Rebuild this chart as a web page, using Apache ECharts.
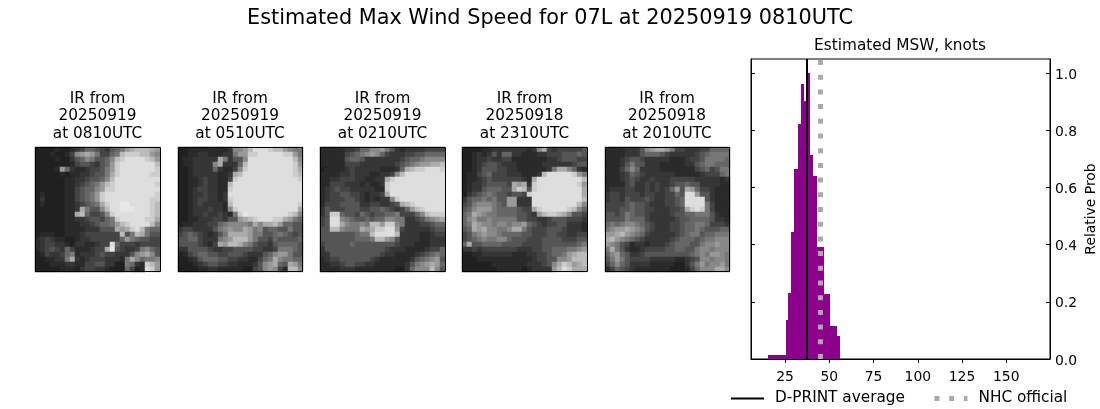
<!DOCTYPE html>
<html>
<head>
<meta charset="utf-8">
<style>html,body{margin:0;padding:0;background:#fff}#main{width:1100px;height:409px}</style>
<script src="https://cdn.jsdelivr.net/npm/echarts@6/dist/echarts.min.js"></script>
</head>
<body>
<div id="main"></div>
<script>
var FONT = '"DejaVu Sans"';
var mainTitle = 'Estimated Max Wind Speed for 07L at 20250919 0810UTC';
var histTitle = 'Estimated MSW, knots';
var panelTitles = [
    'IR from\n20250919\nat 0810UTC',
    'IR from\n20250919\nat 0510UTC',
    'IR from\n20250919\nat 0210UTC',
    'IR from\n20250918\nat 2310UTC',
    'IR from\n20250918\nat 2010UTC'
];

// brightness of each IR panel, one hex digit per cell
var ir0810 = [
    '1111211234665435679abbba9','1112112489a974467bcccbb98','1111211356875568bcddddcb9','1111111245543569cdddddddb',
    '1111296322344579cdddddddc','111112122334557acddddddcc','111111223345568bddddddddd','11111122345679bcddddddddc',
    '11111122456689ccddddddddd','1211112245679cddddddddddc','1311112245679cdddddddddcc','1211112234567acddeeddddcb',
    '111111223a7558bddeeedddcb','11111122ab64458cdddddddcb','1111112233455467cdddddcca','11111122233456679bcddddb8',
    '1111112222333555a9acdb766','12221122234444444b57ba755','2343221123344444469765544','234433213322344d644434444',
    '23454364222344ae543347865','1243346723334544333589a85','1122337a32344433327a86778','1112223322445533117632cb9',
    '1111122213443321116412dc9'
];
var ir0510 = [
    '11222222223889bdddcbb9877','11223322233799ccdddddcc97','12233333a73558dddddddddb8','12233338a3336bdddddddddc9',
    '1123333632248cdddddddddca','11233333223abddddddddddcb','11223433224cddddddddddddc','1122343322bdddddddddddddd',
    '1123443322cdddddddddddddd','1123343323ddddddddddddddd','1123443323cdddddddddddddd','1123433332bdddddddddddddc',
    '11233343328cdddddddddddda','112334334327ceddddddddcb8','1122333443559abcdddcca976','122333446788887a8aab96655',
    '3443333578988a97856655755','4565432357aaaa97755676545','55664333789bbb97554655556','55554324a9bba875443566665',
    '3355554334455554433477765','1245665544555433356899755','1123566655443322467a87766','1112345544332223589a65a97',
    '1111223322222114589842bb8'
];
var ir0210 = [
    '2222233466889753233334444','2222245678986433344556666','2222256653333333456678888','2222244433333334567899aab',
    '12222343333322236abccdddc','2222334333223348bdddddddd','2233444332233acdddddddddd','2244433323223cddddddddddd',
    '2345443333322cddddddddddd','2344554432334addddddddddd','234445543232338cddddddddd','2444555533443345abcdddddd',
    '3544455544556543469bcdddd','35cc65546545566744468bccc','45dd87655656688773345789a','45dda87787bb9cc8733344566',
    '55bb8777a9accdd9433333455','5555555677bddddb333322344','55555556667bb985333322333','4555556555555554333222333',
    '3555555555555433322223446','3355555555554332222345676','2344555555432222223567895','2233455443322222235789a96',
    '2222333222222221136888b85'
];
var ir2310 = [
    '1111223333333238a43444445','1123235366332223344455565','1123343344222222233455544','1123455433322222333333455',
    '1123555443322222237aa8632','1224564443332223bdddddc97','12234544444432adddddddddb','1233455554a9a3cddddddddc9',
    '1233566655acb5cddddddddda','1345676554554cdddddddddda','35667675599333ddddddddddb','45788876599333dddddddddb8',
    '56899976666544acdddddcb86','67a9877666655439bccba8554','6897787777755443345554443','67a9887887889654344553332',
    '56a9a88778aa7544455543332','4578988766665544455443344','4567877886555444555544455','6a55666655554444555555567',
    '3343444444433344556667789','1122333333222334456679abb','1112222222222234455889bbb','1111112222222333458acb9ab',
    '1111111222221233339bdcaaa'
];
var ir2010 = [
    '2222333589aa9744333446666','2222333566654333334567777','2223455433333222344577776','2223575533322222335677666',
    '2224686333322222224564577','2223465433333322222344467','2223454334333444443333323','2222453343433455655333322',
    '2333443343434695a96443222','3443444344334465dd9553222','3443544454334456dddd53222','4444565543334456dddd74222',
    '4445565544333445acdc74222','5545765543333455667775322','5555766643333345566665332','6767887654333445667764443',
    '7899a98754333445667655566','99ab987643333345677566777','ab98765433333456665677888','9875423323334566655788988',
    '7a75322344445566557887888','6896533455555555567879987','5797544443333322345887887','4686533332222211357978897',
    '2465432222222111246888aa8'
];
var panels = [ir0810, ir0510, ir0210, ir2310, ir2010];
var grayRamp = ['#161616', '#202020', '#2a2a2a', '#363636', '#444444', '#555555', '#666666', '#777777',
    '#888888', '#999999', '#aaaaaa', '#bbbbbb', '#cdcdcd', '#dedede', '#e8e8e8', '#f0f0f0'];

// histogram bins are not evenly wide
var binEdges = [15.4, 25.6, 26.7, 28.4, 30.1, 32.4, 34.0, 35.7, 36.9, 39.1, 40.8, 43.1, 47.1, 50.5, 54.4, 56.1];
var binProbs = [0.015, 0.137, 0.23, 0.445, 0.665, 0.823, 0.962, 0.903, 1.0, 0.714, 0.64, 0.393, 0.228, 0.116, 0.08];
var xTicks = [25, 50, 75, 100, 125, 150];
var yTicks = [0, 0.2, 0.4, 0.6, 0.8, 1.0];
var dprintAverage = 37.4;
var nhcOfficial = 45;
var xRange = [5.75, 174.7];
var yRange = [0, 1.05];

// left edge and outlined width of each panel
var panelBoxes = [[35, 125], [178, 124], [320, 125], [462, 125], [605, 124]];
var panelTop = 147, panelHeight = 124, cellSpan = 125;

var titles = [
    { text: mainTitle, left: 545, top: 3, textAlign: 'center', textStyle: { fontFamily: FONT, fontSize: 20.8, fontWeight: 'normal', color: '#000' } },
    { text: histTitle, left: 895, top: 34, textAlign: 'center', textStyle: { fontFamily: FONT, fontSize: 15.3, fontWeight: 'normal', color: '#000' } }
];
var grids = [], xAxes = [], yAxes = [], series = [], outlines = [];

panels.forEach(function (rows, p) {
    var box = panelBoxes[p];
    var cells = [], idx = [];
    rows[0].split('').forEach(function (c, i) { idx.push(i); });
    rows.forEach(function (row, r) {
        row.split('').forEach(function (ch, c) {
            cells.push([c, r, parseInt(ch, 16)]);
        });
    });
    grids.push({ left: box[0], top: panelTop, width: cellSpan, height: cellSpan, outerBoundsMode: 'none' });
    xAxes.push({ gridIndex: p, type: 'category', data: idx, show: false });
    yAxes.push({ gridIndex: p, type: 'category', data: rows.map(function (r, i) { return i; }), inverse: true, show: false });
    series.push({ type: 'heatmap', xAxisIndex: p, yAxisIndex: p, data: cells, silent: true });
    titles.push({
        text: panelTitles[p], left: box[0] + box[1] / 2 - 5, top: 85, textAlign: 'center',
        textStyle: { fontFamily: FONT, fontSize: 15.3, lineHeight: 17.5, fontWeight: 'normal', color: '#000' }
    });
    outlines.push({
        type: 'rect', z: 100, silent: true,
        shape: { x: box[0] + 0.5, y: panelTop + 0.5, width: box[1], height: panelHeight },
        style: { fill: 'none', stroke: '#000', lineWidth: 1 }
    });
});

// histogram grid
var H = panels.length;
grids.push({ left: 751, top: 59, width: 299, height: 300, show: true, borderColor: '#000', borderWidth: 1, backgroundColor: 'transparent', outerBoundsMode: 'none' });
xAxes.push({
    gridIndex: H, type: 'value', min: xRange[0], max: xRange[1], position: 'bottom',
    splitLine: { show: false },
    axisLine: { onZero: false, lineStyle: { color: '#000', width: 1 } },
    axisTick: { customValues: xTicks, length: 4, lineStyle: { color: '#000' } },
    axisLabel: { customValues: xTicks, color: '#000', fontFamily: FONT, fontSize: 13.9, margin: 11 }
});
yAxes.push({
    gridIndex: H, type: 'value', min: yRange[0], max: yRange[1], position: 'right',
    name: 'Relative Prob', nameLocation: 'middle', nameRotate: 90, nameGap: 34,
    nameTextStyle: { color: '#000', fontFamily: FONT, fontSize: 13.9 },
    splitLine: { show: false },
    axisLine: { show: true, lineStyle: { color: '#000', width: 1 } },
    axisTick: { show: true, inside: true, customValues: yTicks, length: 4, lineStyle: { color: '#000' } },
    axisLabel: {
        customValues: yTicks, color: '#000', fontFamily: FONT, fontSize: 13.9, margin: 5,
        verticalAlign: 'top', lineHeight: 4,
        formatter: function (v) { return v.toFixed(1); }
    }
});
yAxes.push({
    gridIndex: H, type: 'value', min: yRange[0], max: yRange[1], position: 'left',
    splitLine: { show: false },
    axisLine: { show: true, lineStyle: { color: '#000', width: 1 } },
    axisTick: { show: true, inside: true, customValues: yTicks, length: 4, lineStyle: { color: '#000' } },
    axisLabel: { show: false }
});

var histData = binProbs.map(function (p, i) { return [binEdges[i], binEdges[i + 1], p]; });
series.push({
    type: 'custom', xAxisIndex: H, yAxisIndex: H, silent: true,
    encode: { x: [0, 1], y: 2 },
    data: histData,
    renderItem: function (params, api) {
        var a = api.coord([api.value(0), api.value(2)]);
        var b = api.coord([api.value(1), 0]);
        var x0 = Math.round(a[0]), x1 = Math.round(b[0]), y0 = Math.round(a[1]);
        return {
            type: 'rect',
            shape: { x: x0, y: y0, width: x1 - x0, height: Math.round(b[1]) - y0 },
            style: { fill: '#8b008b' }
        };
    }
});
series.push({
    name: 'D-PRINT average', type: 'line', xAxisIndex: H, yAxisIndex: H, showSymbol: false, symbol: 'none', silent: true,
    data: [[dprintAverage, yRange[0]], [dprintAverage, yRange[1]]],
    lineStyle: { color: '#000', width: 2 }, itemStyle: { color: '#000' }, z: 5
});
series.push({
    name: 'NHC official', type: 'line', xAxisIndex: H, yAxisIndex: H, showSymbol: false, symbol: 'none', silent: true,
    data: [[nhcOfficial, yRange[0]], [nhcOfficial, yRange[1]]],
    lineStyle: { color: '#aaaaaa', width: 5, type: [5, 9.7] }, itemStyle: { color: '#aaaaaa' }, z: 6
});

var option = {
    animation: false,
    backgroundColor: '#fff',
    title: titles,
    grid: grids,
    xAxis: xAxes,
    yAxis: yAxes,
    visualMap: {
        show: false, type: 'continuous', min: 0, max: 15,
        seriesIndex: panels.map(function (r, i) { return i; }),
        inRange: { color: grayRamp }
    },
    legend: {
        data: ['D-PRINT average', 'NHC official'],
        left: 725, top: 386, itemWidth: 33, itemHeight: 14, itemGap: 27,
        itemStyle: { color: 'transparent', borderColor: 'transparent', opacity: 0 },
        lineStyle: { width: 'inherit' },
        textStyle: { fontFamily: FONT, fontSize: 15.3, color: '#000', padding: [0, 0, 0, 6] }
    },
    graphic: outlines,
    series: series
};

var myChart = echarts.init(document.getElementById('main'), null, { renderer: 'canvas' });
myChart.setOption(option);
</script>
</body>
</html>
